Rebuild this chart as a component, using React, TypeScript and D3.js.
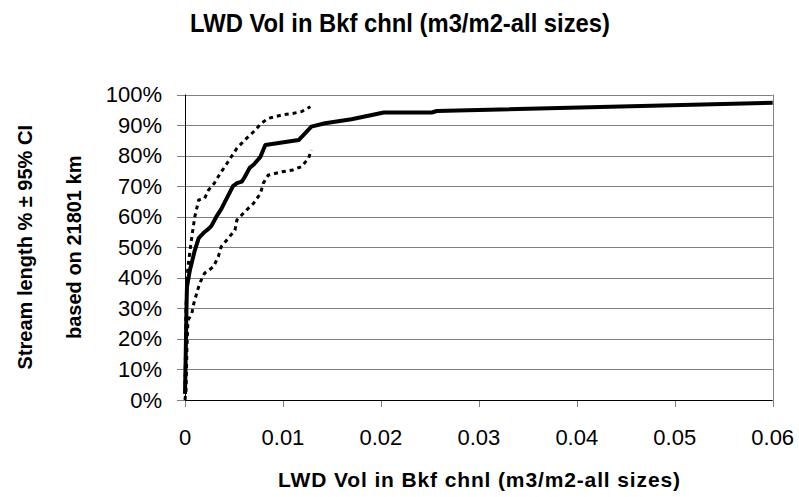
import React from "react";
import * as d3 from "d3";

const xTicks = [0, 0.01, 0.02, 0.03, 0.04, 0.05, 0.06];
const yTicks = [0, 0.1, 0.2, 0.3, 0.4, 0.5, 0.6, 0.7, 0.8, 0.9, 1.0];

const mainX = [0, 0.00005, 0.0001, 0.00015, 0.0002, 0.0005, 0.001, 0.0014, 0.002, 0.0024, 0.0027, 0.0032, 0.0037, 0.0041, 0.0049, 0.0053, 0.0058, 0.0061, 0.0066, 0.007, 0.0074, 0.0077, 0.0082, 0.0116, 0.0124, 0.0129, 0.0143, 0.017, 0.0203, 0.0252, 0.0257, 0.06];
const mainY = [0.02, 0.1, 0.2, 0.3, 0.37, 0.425, 0.49, 0.53, 0.55, 0.56, 0.57, 0.6, 0.625, 0.65, 0.7, 0.71, 0.715, 0.73, 0.76, 0.77, 0.785, 0.796, 0.835, 0.851, 0.878, 0.895, 0.906, 0.919, 0.941, 0.941, 0.946, 0.973];

const upperX = [0, 0.00005, 0.0001, 0.0002, 0.0003, 0.0007, 0.001, 0.0014, 0.002, 0.0024, 0.003, 0.0036, 0.0043, 0.0053, 0.0061, 0.007, 0.0078, 0.0085, 0.0099, 0.011, 0.0119, 0.0128];
const upperY = [0.05, 0.15, 0.3, 0.38, 0.436, 0.535, 0.6, 0.655, 0.66, 0.687, 0.71, 0.742, 0.775, 0.824, 0.851, 0.878, 0.906, 0.922, 0.933, 0.938, 0.944, 0.96];

const lowerX = [0, 0.0001, 0.0002, 0.0003, 0.0007, 0.0009, 0.0012, 0.0015, 0.002, 0.0029, 0.0034, 0.0037, 0.0044, 0.0051, 0.0053, 0.0061, 0.007, 0.0077, 0.008, 0.0085, 0.0099, 0.011, 0.0119, 0.0126, 0.0129];
const lowerY = [0, 0.03, 0.174, 0.26, 0.284, 0.316, 0.35, 0.382, 0.415, 0.436, 0.469, 0.502, 0.529, 0.556, 0.589, 0.616, 0.644, 0.676, 0.71, 0.736, 0.747, 0.753, 0.764, 0.791, 0.818];

const title = "LWD Vol in Bkf chnl (m3/m2-all sizes)";
const xTitle = "LWD Vol in Bkf chnl (m3/m2-all sizes)";
const yTitle1 = "Stream length % \u00b1 95% CI";
const yTitle2 = "based on 21801 km";

const W = 799;
const H = 497;
const font = "'Liberation Sans', Arial, Helvetica, sans-serif";

export default function App() {
  const x = d3.scaleLinear().domain([0, 0.06]).range([185, 772.7]);
  const y = d3.scaleLinear().domain([0, 1]).range([400, 94.5]);
  const line = d3
    .line<[number, number]>()
    .x((d) => x(d[0]))
    .y((d) => y(d[1]));
  const zip = (a: number[], b: number[]) => a.map((v, i) => [v, b[i]] as [number, number]);
  const x0 = x(0);
  const x1 = x(0.06);
  const yTop = y(1);
  const yBot = y(0);
  const midY = (yTop + yBot) / 2;

  return (
    <svg width={W} height={H} style={{ position: "absolute", left: 0, top: 0, background: "#fff" }} fontFamily={font}>
      <rect x={0} y={0} width={W} height={H} fill="#fff" />
      {yTicks.filter((t) => t > 0).map((t) => (
        <line key={"g" + t} x1={x0} x2={x1} y1={Math.round(y(t)) + 0.5} y2={Math.round(y(t)) + 0.5} stroke="#808080" strokeWidth={1} />
      ))}
      <line x1={Math.round(x1) + 0.5} x2={Math.round(x1) + 0.5} y1={yTop} y2={yBot} stroke="#808080" strokeWidth={1} />
      {yTicks.map((t) => (
        <line key={"yt" + t} x1={177} x2={x0} y1={Math.round(y(t)) + 0.5} y2={Math.round(y(t)) + 0.5} stroke="#808080" strokeWidth={1} />
      ))}
      {xTicks.map((t) => (
        <line key={"xt" + t} x1={Math.round(x(t)) + 0.5} x2={Math.round(x(t)) + 0.5} y1={yBot} y2={yBot + 7} stroke="#808080" strokeWidth={1} />
      ))}
      <line x1={Math.round(x0) + 0.5} x2={Math.round(x0) + 0.5} y1={yTop} y2={yBot} stroke="#000" strokeWidth={1} />
      <line x1={x0} x2={x1} y1={Math.round(yBot) + 0.5} y2={Math.round(yBot) + 0.5} stroke="#000" strokeWidth={1} />

      <path d={line(zip(upperX, upperY)) || ""} fill="none" stroke="#000" strokeWidth={3} strokeDasharray="4,4" />
      <path d={line(zip(lowerX, lowerY)) || ""} fill="none" stroke="#000" strokeWidth={3} strokeDasharray="4,4" />
      <path d={line(zip(mainX, mainY)) || ""} fill="none" stroke="#000" strokeWidth={4} strokeLinejoin="round" />

      {yTicks.map((t) => (
        <text key={"yl" + t} x={162} y={y(t) + 7.5} textAnchor="end" fontSize={22} fill="#000">
          {`${Math.round(t * 100)}%`}
        </text>
      ))}
      {xTicks.map((t) => (
        <text key={"xl" + t} x={x(t)} y={445} textAnchor="middle" fontSize={22} fill="#000">
          {t === 0 ? "0" : d3.format(".2f")(t)}
        </text>
      ))}

      <text x={400} y={31.5} textAnchor="middle" fontSize={25} fontWeight="bold" textLength={420} lengthAdjust="spacingAndGlyphs">
        {title}
      </text>
      <text x={479} y={487} textAnchor="middle" fontSize={21} fontWeight="bold" textLength={402} lengthAdjust="spacing">
        {xTitle}
      </text>
      <text transform={`translate(32,${midY}) rotate(-90)`} textAnchor="middle" fontSize={20} fontWeight="bold">
        {yTitle1}
      </text>
      <text transform={`translate(81,${midY}) rotate(-90)`} textAnchor="middle" fontSize={20} fontWeight="bold">
        {yTitle2}
      </text>
    </svg>
  );
}
